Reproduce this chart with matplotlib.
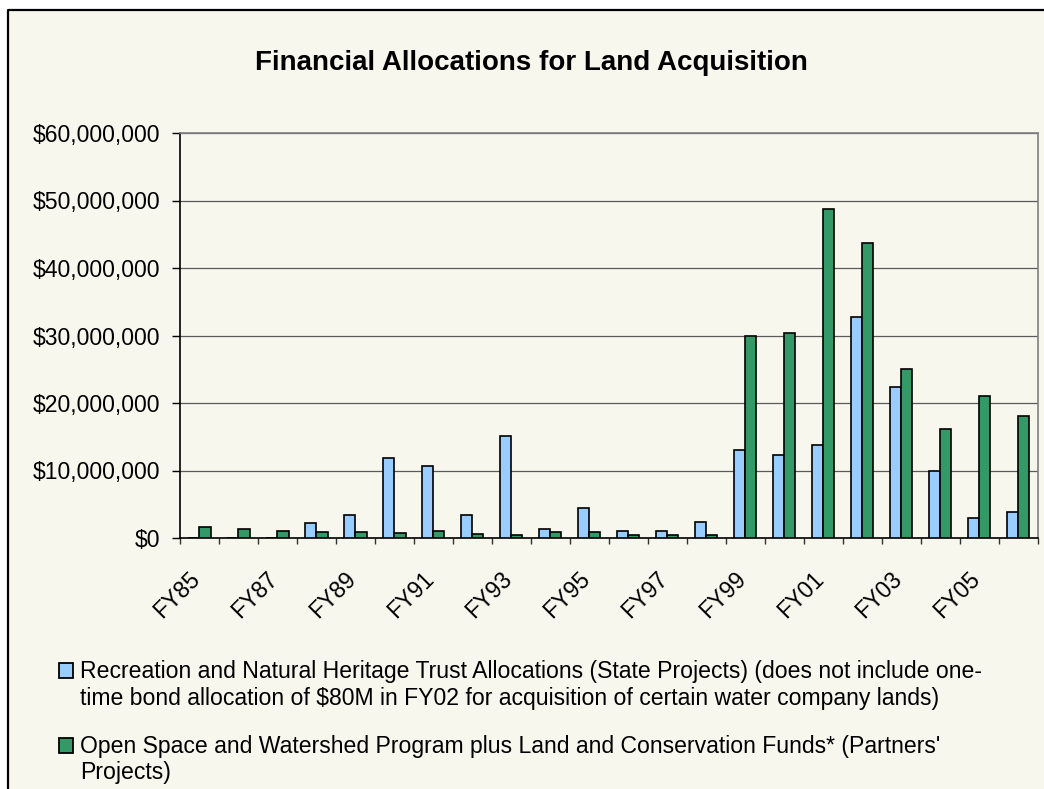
import matplotlib
matplotlib.use("Agg")
import matplotlib.pyplot as plt
from matplotlib.patches import Rectangle
from matplotlib.lines import Line2D
from matplotlib.ticker import FuncFormatter
import matplotlib.transforms as mtransforms
import numpy as np

plt.rcParams["font.family"] = ["Liberation Sans", "DejaVu Sans"]
plt.rcParams["text.parse_math"] = False

# Fiscal years and allocations (US dollars)
years = ["FY85", "FY86", "FY87", "FY88", "FY89", "FY90", "FY91", "FY92",
         "FY93", "FY94", "FY95", "FY96", "FY97", "FY98", "FY99", "FY00",
         "FY01", "FY02", "FY03", "FY04", "FY05", "FY06"]
state_projects = [0, 0, 0, 2.2e6, 3.4e6, 11.85e6, 10.6e6, 3.4e6, 15.1e6,
                  1.3e6, 4.4e6, 1.1e6, 1.1e6, 2.4e6, 13.1e6, 12.3e6, 13.8e6,
                  32.7e6, 22.4e6, 9.9e6, 2.9e6, 3.9e6]
partner_projects = [1.7e6, 1.3e6, 1.1e6, 0.85e6, 0.85e6, 0.8e6, 1.0e6,
                    0.6e6, 0.5e6, 0.95e6, 0.95e6, 0.5e6, 0.5e6, 0.5e6,
                    29.9e6, 30.4e6, 48.7e6, 43.7e6, 25.1e6, 16.1e6, 21.0e6,
                    18.1e6]
y_ticks = [0, 10e6, 20e6, 30e6, 40e6, 50e6, 60e6]

title = "Financial Allocations for Land Acquisition"
legend_state = ["Recreation and Natural Heritage Trust Allocations (State Projects) (does not include one-",
                "time bond allocation of $80M in FY02 for acquisition of certain water company lands)"]
legend_partner = ["Open Space and Watershed Program plus Land and Conservation Funds* (Partners'",
                  "Projects)"]

BG = "#F7F7EE"
BLUE = "#99CCFF"
GREEN = "#339966"
FS = 16.6

W, H = 1044, 789
fig = plt.figure(figsize=(W / 100, H / 100), dpi=100)
fig.patch.set_facecolor("white")


def fx(x):
    return x / W


def fy(y):
    return 1 - y / H


# chart area panel with border on top and left
fig.add_artist(Rectangle((fx(8), 0), 1, fy(10), transform=fig.transFigure,
                         facecolor=BG, edgecolor="none", zorder=0))
fig.add_artist(Line2D([fx(8), fx(8), 1.0], [0, fy(9.5), fy(9.5)],
                      transform=fig.transFigure, color="black", lw=1.6,
                      zorder=1))

left, right, top, bottom = 180, 1037.5, 133, 538
ax = fig.add_axes([fx(left), fy(bottom), fx(right - left), fy(top) - fy(bottom)])
ax.set_facecolor(BG)

x = np.arange(len(years))
w = 1 / 3.5
ax.bar(x - w / 2, state_projects, w, color=BLUE, edgecolor="black",
       linewidth=1.2, zorder=3)
ax.bar(x + w / 2, partner_projects, w, color=GREEN, edgecolor="black",
       linewidth=1.2, zorder=3)

ax.set_xlim(-0.5, len(years) - 0.5)
ax.set_ylim(0, 60e6)
ax.set_yticks(y_ticks)
ax.yaxis.set_major_formatter(FuncFormatter(lambda v, p: "${:,.0f}".format(v)))
ax.yaxis.grid(True, color="#5a5a5a", lw=0.9, zorder=1)
ax.set_axisbelow(True)

ax.set_xticks(x[::2])
ax.set_xticklabels(years[::2], rotation=45, ha="right", va="top",
                   rotation_mode="anchor")
ax.set_xticks(np.arange(len(years) + 1) - 0.5, minor=True)
ax.tick_params(axis="x", which="major", length=0, pad=21, labelsize=FS)
ax.tick_params(axis="x", which="minor", length=4, width=1, color="#333333",
               direction="out")
ax.tick_params(axis="y", length=5.5, width=1, direction="out", pad=8.5,
               labelsize=FS)
shift = mtransforms.ScaledTranslation(-11 / 100, 0, fig.dpi_scale_trans)
for lbl in ax.get_xticklabels():
    lbl.set_transform(lbl.get_transform() + shift)

for s in ["left", "bottom"]:
    ax.spines[s].set_color("black")
    ax.spines[s].set_linewidth(1.2)
for s in ["top", "right"]:
    ax.spines[s].set_color("#808080")
    ax.spines[s].set_linewidth(1.2)

fig.text(fx(531), fy(63), title, ha="center", va="center",
         fontsize=20, fontweight="bold")

# legend drawn as swatches with wrapped text
entries = [(BLUE, legend_state, [678, 705]),
           (GREEN, legend_partner, [753, 779])]
for color, lines, baselines in entries:
    b = baselines[0]
    fig.add_artist(Rectangle((fx(58.5), fy(b)), fx(14.5), fy(b - 15) - fy(b),
                             transform=fig.transFigure, facecolor=color,
                             edgecolor="black", lw=1.3, zorder=2))
    for line, base in zip(lines, baselines):
        fig.text(fx(80), fy(base), line, ha="left", va="baseline",
                 fontsize=FS)

fig.savefig("out.png", dpi=100, facecolor=fig.get_facecolor())
